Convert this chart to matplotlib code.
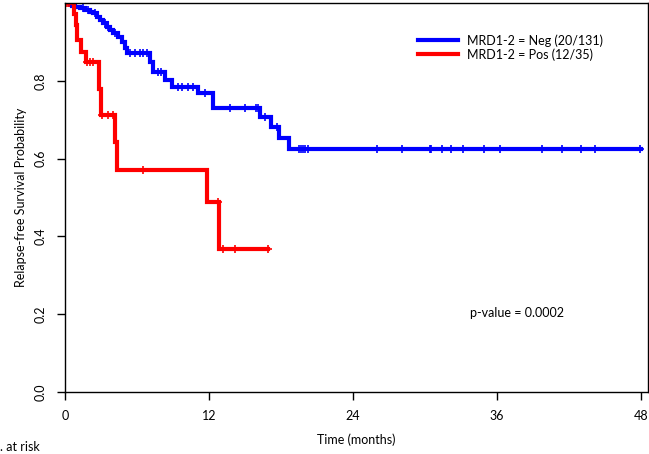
import numpy as np
import matplotlib
matplotlib.use('Agg')
import matplotlib.pyplot as plt

plt.rcParams['font.family'] = ['Lato', 'DejaVu Sans']

# MRD1-2 = Neg : step times (months) and survival after each step
neg_t = [0, 0.6, 0.83, 1.25, 1.67, 2.08, 2.33, 2.67, 2.92, 3.17, 3.5, 3.75, 4.0, 4.42, 4.75, 5.0, 5.17,
         7.08, 7.33, 8.33, 8.92, 11.1, 12.3, 16.25, 17.2, 17.85, 18.7, 48.0]
neg_s = [1.0, 0.992, 0.990, 0.987, 0.982, 0.977, 0.974, 0.964, 0.956, 0.949, 0.938, 0.931, 0.923, 0.913, 0.900, 0.884, 0.871,
         0.848, 0.823, 0.802, 0.784, 0.769, 0.730, 0.707, 0.681, 0.653, 0.625, 0.625]
neg_cens = [0.3, 0.5, 1.5, 1.9, 2.5, 3.3, 3.6, 4.2, 5.4, 5.8, 6.25, 6.5, 6.8, 7.75, 8.0,
            9.4, 9.75, 10.25, 10.7, 11.7, 13.75, 15.0, 15.9, 16.1, 16.7, 17.7,
            19.5, 19.67, 19.83, 20.0, 20.25, 25.97, 28.1, 30.4, 30.5, 31.4, 32.2, 33.2,
            34.9, 36.25, 39.8, 41.4, 43.0, 44.2, 47.9]

# MRD1-2 = Pos
pos_t = [0, 0.75, 0.92, 1.0, 1.3, 1.75, 2.85, 3.0, 4.2, 4.3, 11.8, 12.8, 16.9]
pos_s = [1.0, 0.971, 0.943, 0.905, 0.874, 0.848, 0.78, 0.712, 0.642, 0.571, 0.488, 0.367, 0.367]
pos_cens = [0.15, 0.35, 1.85, 2.1, 2.35, 3.1, 3.6, 4.0, 6.5, 12.75, 13.2, 14.2, 16.9]

labels = ['MRD1-2 = Neg (20/131)', 'MRD1-2 = Pos (12/35)']
colors = ['#0000ff', '#ff0000']


def surv_at(t, s, x):
    i = np.searchsorted(t, x, side='right') - 1
    return np.array(s)[i]


fig = plt.figure(figsize=(6.49, 4.54), dpi=100)
ax = fig.add_axes([65/649, 1-392/454, 583/649, 389/454])

for t, s, c, cl, lab in [(neg_t, neg_s, neg_cens, colors[0], labels[0]),
                         (pos_t, pos_s, pos_cens, colors[1], labels[1])]:
    ax.step(t, s, where='post', color=cl, lw=3, label=lab, solid_joinstyle='miter')
    ax.plot(c, surv_at(t, s, c), '+', color=cl, ms=6, mew=1.2)

ax.set_xlim(0, 48.6)
ax.set_ylim(0, 1.0)
ax.set_xticks([0, 12, 24, 36, 48])
ax.set_yticks([0.0, 0.2, 0.4, 0.6, 0.8])
ax.set_yticklabels(['0.0', '0.2', '0.4', '0.6', '0.8'], rotation=90, va='center')
ax.tick_params(direction='out', length=6, width=1, labelsize=9, pad=7)
for sp in ax.spines.values():
    sp.set_linewidth(1)

ax.set_xlabel('Time (months)', fontsize=9, labelpad=8)
ax.set_ylabel('Relapse-free Survival Probability', fontsize=9, labelpad=6)

ax.legend(loc='upper left', bbox_to_anchor=(342/583, 1-20/389), frameon=False,
          fontsize=9, handlelength=3.2, handletextpad=0.7, labelspacing=0.1)
ax.text(517, 454-313, 'p-value = 0.0002', transform=None, fontsize=9, ha='center', va='center')
fig.text(0.0, 1-447/454, '. at risk', ha='left', va='center', fontsize=9)

plt.savefig('out.png', dpi=100)
